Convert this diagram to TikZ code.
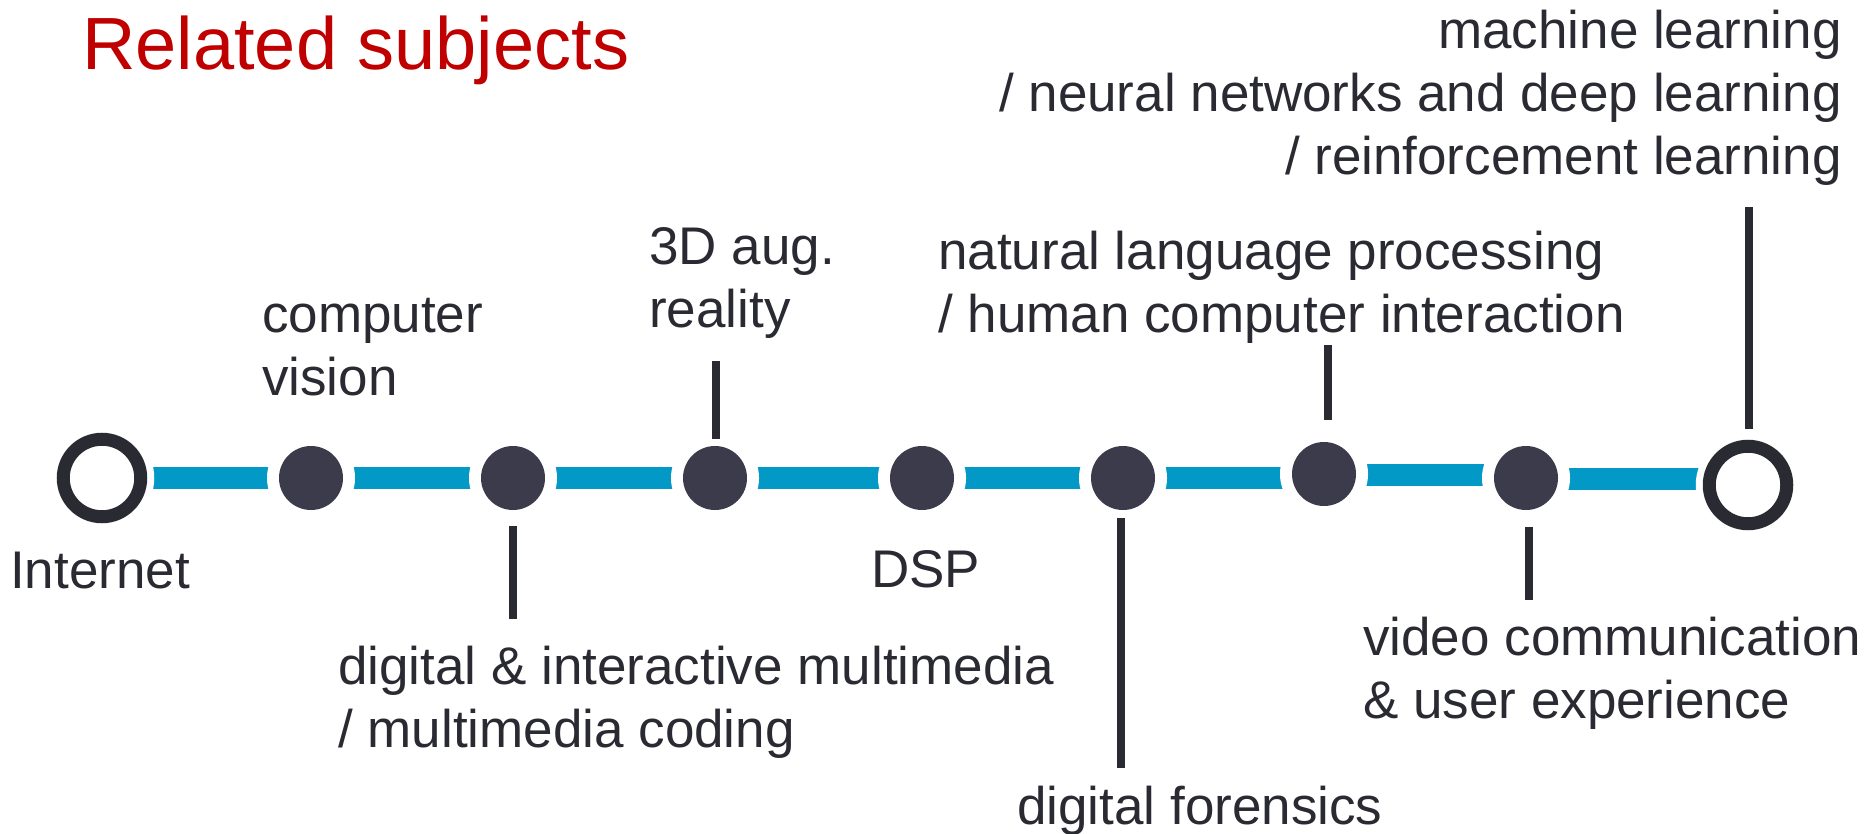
\documentclass[tikz,border=0pt]{standalone}
\usepackage{fontspec}
\setmainfont{Liberation Sans}
\usetikzlibrary{backgrounds}
\definecolor{barblue}{HTML}{0399C6}
\definecolor{dotcol}{HTML}{3C3B4B}
\definecolor{inkcol}{HTML}{2A2A33}
\definecolor{titlered}{HTML}{C00000}
\begin{document}
\begin{tikzpicture}[x=1pt,y=-1pt,
  dotnode/.style={circle,fill=dotcol,minimum size=64pt,inner sep=0pt,
    preaction={draw=white,line width=24pt}},
  ringnode/.style={circle,draw=inkcol,line width=13pt,fill=white,
    minimum size=77.5pt,inner sep=0pt,preaction={draw=white,line width=27pt}},
  bar/.style={draw=barblue,line width=22pt},
  tickline/.style={draw=inkcol,line width=8pt},
  lbl/.style={inner sep=0pt,text=inkcol,font=\fontsize{53}{63}\selectfont},
  titlelbl/.style={inner sep=0pt,text=titlered,font=\fontsize{74}{88}\selectfont}]
\useasboundingbox (0,0) rectangle (1873,834);

% stations
\node[ringnode] (inet) at (102,478) {};
\node[dotnode] (d1) at (311,478) {};
\node[dotnode] (d2) at (513,478) {};
\node[dotnode] (d3) at (715,478) {};
\node[dotnode] (d4) at (922,478) {};
\node[dotnode] (d5) at (1123,478) {};
\node[dotnode] (d6) at (1324,474) {};
\node[dotnode] (d7) at (1526,478) {};
\node[ringnode] (fin) at (1748,485) {};

% line segments
\begin{pgfonlayer}{background}
\draw[bar] (inet.center) -- (d1.center);
\draw[bar] (d1.center) -- (d2.center);
\draw[bar] (d2.center) -- (d3.center);
\draw[bar] (d3.center) -- (d4.center);
\draw[bar] (d4.center) -- (d5.center);
\draw[bar] (d5.center) -- (d5.center -| d6.center);
\draw[bar] ([yshift=-1pt]d6.center) -- ([yshift=3pt]d7.center);
\draw[bar] ([yshift=-1pt]d7.center) -- ([yshift=6pt]fin.center);
\end{pgfonlayer}

% ticks
\coordinate (t2a) at (513,526); \coordinate (t2b) at (513,619);
\coordinate (t3a) at (716,361); \coordinate (t3b) at (716,439);
\coordinate (t5a) at (1121,518); \coordinate (t5b) at (1121,768);
\coordinate (t6a) at (1328,345); \coordinate (t6b) at (1328,420);
\coordinate (t7a) at (1529,527); \coordinate (t7b) at (1529,600);
\coordinate (tea) at (1749,207); \coordinate (teb) at (1749,429);
\draw[tickline] (t2a) -- (t2b);
\draw[tickline] (t3a) -- (t3b);
\draw[tickline] (t5a) -- (t5b);
\draw[tickline] (t6a) -- (t6b);
\draw[tickline] (t7a) -- (t7b);
\draw[tickline] (tea) -- (teb);

% labels (base anchor = baseline of last line)
\node[titlelbl,anchor=base west] (title) at (82,70) {Related subjects};
\node[lbl,anchor=base west] (linet) at (10,588) {Internet};
\node[lbl,anchor=base west,align=left] (lcv) at (262,395) {computer\\vision};
\node[lbl,anchor=base west,align=left] (lar) at (649,327) {3D aug.\\reality};
\node[lbl,anchor=base west,align=left] (lmm) at (338,747) {digital \& interactive multimedia\\/ multimedia coding};
\node[lbl,anchor=base west] (ldsp) at (871,587) {DSP};
\node[lbl,anchor=base west] (lfor) at (1017,824) {digital forensics};
\node[lbl,anchor=base west,align=left] (lnlp) at (938,332) {natural language processing\\/ human computer interaction};
\node[lbl,anchor=base west,align=left] (lvid) at (1363,718) {video communication\\\& user experience};
\node[lbl,anchor=base east,align=right] (lml) at (1842,175) {machine learning\\/ neural networks and deep learning\\/ reinforcement learning};
\end{tikzpicture}
\end{document}
